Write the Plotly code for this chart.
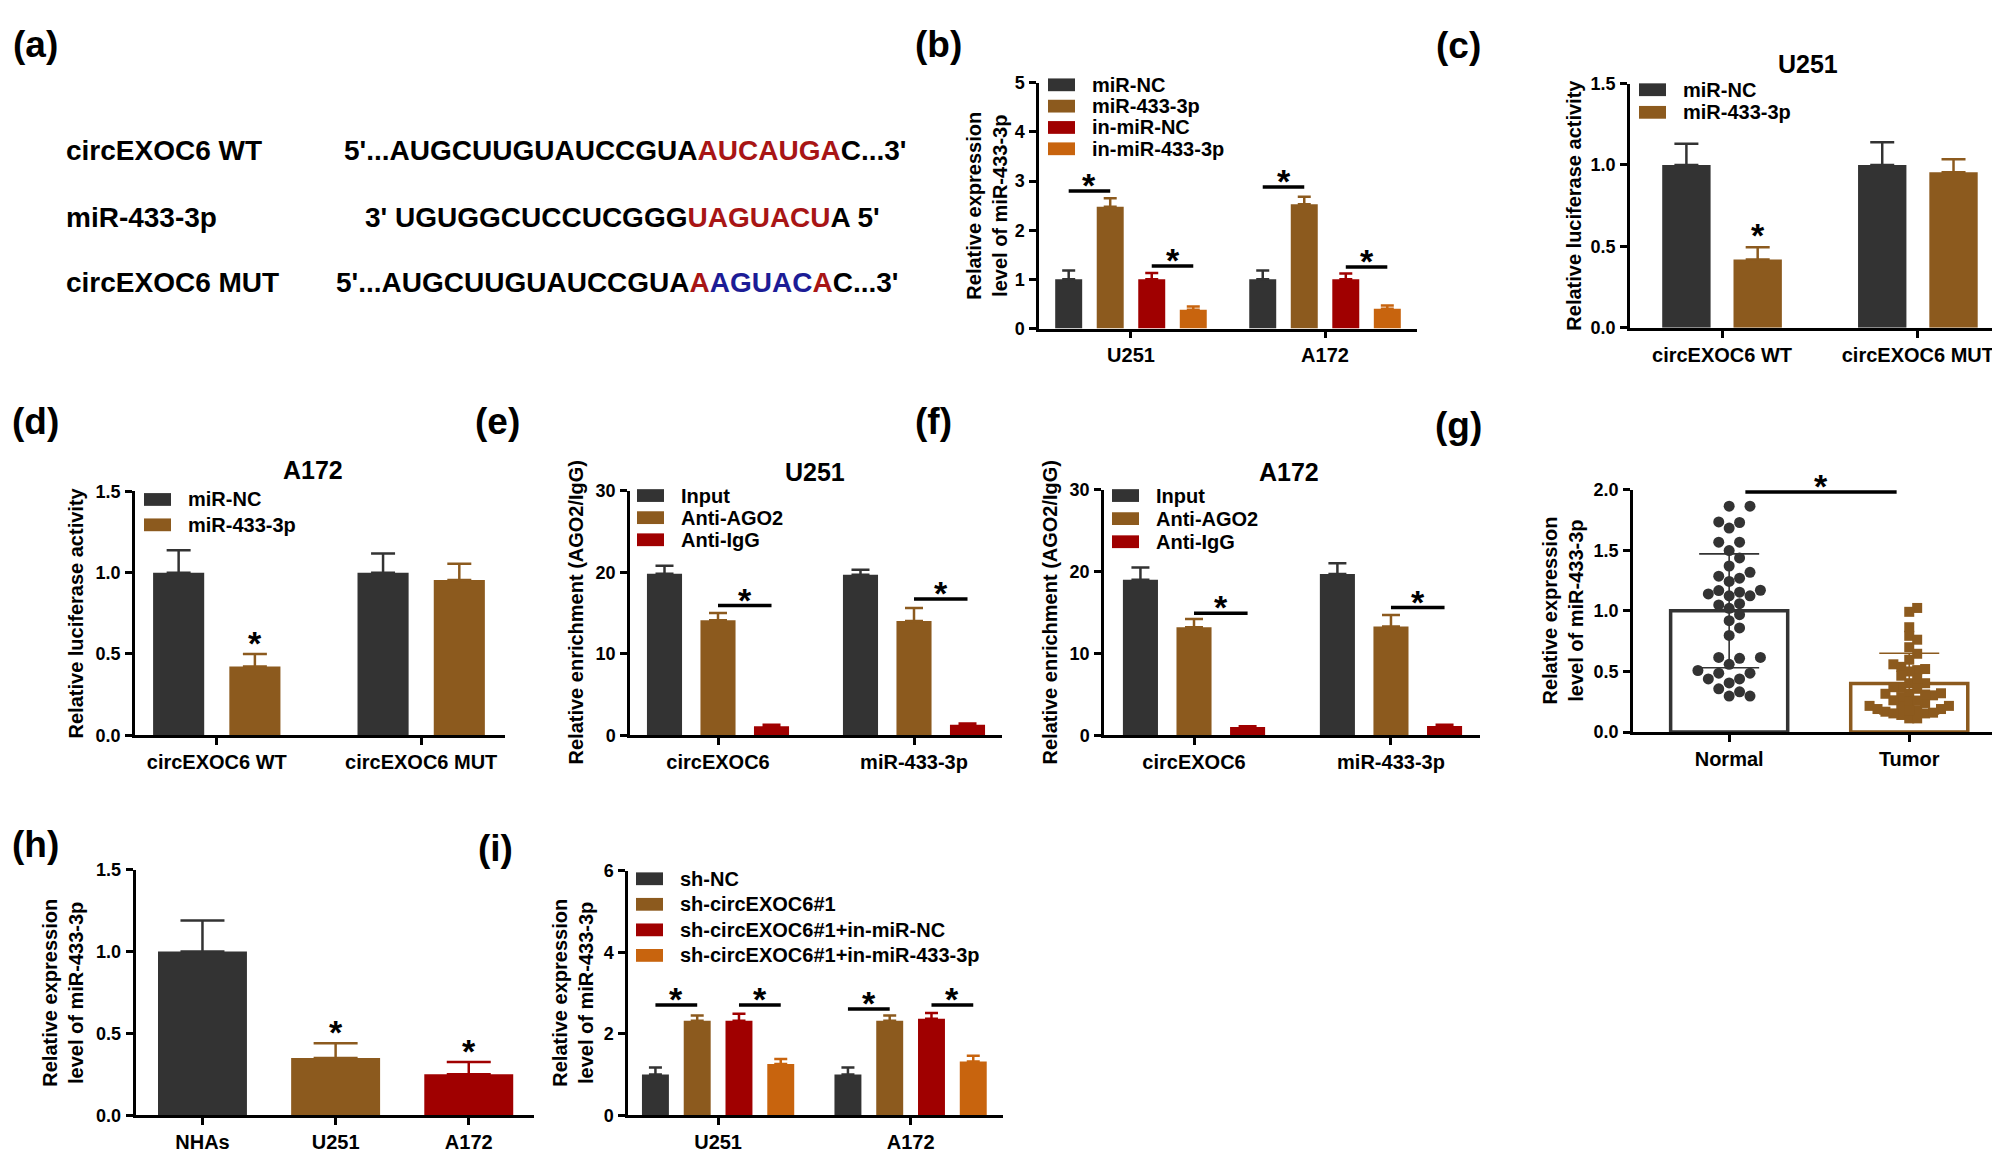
import plotly.graph_objects as go

W, H = 2000, 1150
FONT = "Liberation Sans, Arial, Helvetica, sans-serif"
DARK, BROWN, RED, ORANGE = "#333333", "#8C5A1E", "#A00000", "#C8640E"
SEQ_COL = {"k": "#000000", "r": "#A81515", "b": "#1C1C96"}

# ---------------- data ----------------
# (a)
a_names = ["circEXOC6 WT", "miR-433-3p", "circEXOC6 MUT"]
a_seqs = [
    [("5'...AUGCUUGUAUCCGUA", "k"), ("AUCAUGA", "r"), ("C...3'", "k")],
    [("3' UGUGGCUCCUCGGG", "k"), ("UAGUACU", "r"), ("A 5'", "k")],
    [("5'...AUGCUUGUAUCCGUA", "k"), ("A", "r"), ("AGUAC", "b"), ("A", "r"), ("C...3'", "k")],
]

# (b)
b_cats = ["U251", "A172"]
b_series = ["miR-NC", "miR-433-3p", "in-miR-NC", "in-miR-433-3p"]
b_mean = [[1.00, 1.00], [2.48, 2.53], [1.00, 1.00], [0.38, 0.40]]
b_sd = [[0.18, 0.18], [0.17, 0.15], [0.13, 0.12], [0.07, 0.07]]
b_sig = [(0, 0, 1, 2.80), (0, 2, 3, 1.27), (1, 0, 1, 2.88), (1, 2, 3, 1.25)]

# (c) U251 luciferase
c_cats = ["circEXOC6 WT", "circEXOC6 MUT"]
c_series = ["miR-NC", "miR-433-3p"]
c_mean = [[1.00, 1.00], [0.42, 0.955]]
c_sd = [[0.13, 0.14], [0.075, 0.08]]
c_star = [(0, 1)]

# (d) A172 luciferase
d_cats = ["circEXOC6 WT", "circEXOC6 MUT"]
d_series = ["miR-NC", "miR-433-3p"]
d_mean = [[1.00, 1.00], [0.423, 0.955]]
d_sd = [[0.137, 0.118], [0.077, 0.10]]
d_star = [(0, 1)]

# (e) U251 RIP
e_cats = ["circEXOC6", "miR-433-3p"]
e_series = ["Input", "Anti-AGO2", "Anti-IgG"]
e_mean = [[19.8, 19.7], [14.1, 14.0], [1.1, 1.3]]
e_sd = [[1.0, 0.6], [0.9, 1.6], [0.2, 0.15]]
e_sig = [(0, 1, 2, 15.9), (1, 1, 2, 16.7)]

# (f) A172 RIP
f_cats = ["circEXOC6", "miR-433-3p"]
f_series = ["Input", "Anti-AGO2", "Anti-IgG"]
f_mean = [[19.0, 19.7], [13.2, 13.3], [1.0, 1.15]]
f_sd = [[1.5, 1.3], [1.0, 1.4], [0.1, 0.15]]
f_sig = [(0, 1, 2, 14.9), (1, 1, 2, 15.6)]

# (g) tissues
g_cats = ["Normal", "Tumor"]
g_mean = [1.00, 0.40]
g_sd = [0.47, 0.25]
g_normal = [1.864, 1.864, 1.729, 1.734, 1.683, 1.567, 1.567, 1.497, 1.437, 1.370,
            1.318, 1.286, 1.270, 1.243, 1.154, 1.170, 1.167, 1.140, 1.124, 1.124,
            1.049, 1.059, 1.021, 0.968, 0.919, 0.859, 0.797, 0.616, 0.608, 0.616,
            0.559, 0.508, 0.486, 0.486, 0.438, 0.405, 0.438, 0.357, 0.332, 0.297, 0.297]
g_tumor = [1.024, 0.992, 0.865, 0.794, 0.762, 0.700, 0.646, 0.597, 0.559, 0.538,
           0.511, 0.465, 0.403, 0.403, 0.370, 0.316, 0.357, 0.316, 0.289, 0.303,
           0.214, 0.262, 0.249, 0.216, 0.216, 0.181, 0.168, 0.154, 0.141, 0.154,
           0.113, 0.113, 0.19, 0.18, 0.19, 0.16, 0.24, 0.26, 0.44, 0.32,
           0.37, 0.31, 0.52, 0.50]
g_sig_y = 1.98

# (h) cell lines
h_cats = ["NHAs", "U251", "A172"]
h_mean = [1.00, 0.35, 0.25]
h_sd = [0.19, 0.09, 0.076]
h_star = [1, 2]

# (i) rescue
i_cats = ["U251", "A172"]
i_series = ["sh-NC", "sh-circEXOC6#1", "sh-circEXOC6#1+in-miR-NC", "sh-circEXOC6#1+in-miR-433-3p"]
i_mean = [[1.00, 1.00], [2.32, 2.32], [2.32, 2.37], [1.26, 1.32]]
i_sd = [[0.17, 0.17], [0.13, 0.13], [0.17, 0.14], [0.12, 0.14]]
i_sig = [(0, 0, 1, 2.71), (0, 2, 3, 2.71), (1, 0, 1, 2.61), (1, 2, 3, 2.71)]

# ---------------- helpers ----------------
fig = go.Figure()
shapes, annos = [], []
STAR_SIZE = 34


def ax_name(i):
    return "" if i == 1 else str(i)


def px(x):
    return x / W


def py(y):
    return 1 - y / H


def text(x, y, t, size=20, xanchor="left", yanchor="middle", angle=0, color="black"):
    annos.append(dict(x=px(x), y=py(y), xref="paper", yref="paper", text=t, showarrow=False,
                      xanchor=xanchor, yanchor=yanchor, textangle=angle,
                      font=dict(family=FONT, size=size, color=color, weight="bold")))


def legend(x_sq, y_first, dy, names, colors, sq_w=27, sq_h=13, gap=15):
    for k, (n, c) in enumerate(zip(names, colors)):
        yc = y_first + k * dy
        shapes.append(dict(type="rect", xref="paper", yref="paper", x0=px(x_sq), x1=px(x_sq + sq_w),
                           y0=py(yc + sq_h / 2), y1=py(yc - sq_h / 2), fillcolor=c, line=dict(width=0)))
        text(x_sq + sq_w + gap, yc, n, size=20)


def setup_axes(i, xdom, ydom, xrange, yrange, dtick, tickformat, cats=None, ticktext=None):
    a = ax_name(i)
    common = dict(showline=True, linecolor="black", linewidth=2.5, ticks="outside", ticklen=7,
                  tickwidth=2.5, tickcolor="black", showgrid=False, zeroline=False)
    xa = dict(domain=[px(xdom[0]), px(xdom[1])], anchor="y" + a, range=xrange,
              tickfont=dict(family=FONT, size=20, color="black", weight="bold"), **common)
    if cats is not None:
        xa.update(type="category", categoryorder="array", categoryarray=cats)
    else:
        xa.update(type="linear", tickvals=list(range(len(ticktext))), ticktext=ticktext)
    ya = dict(domain=[py(ydom[1]), py(ydom[0])], anchor="x" + a, range=yrange, dtick=dtick,
              tick0=0, tickformat=tickformat, ticklabelstandoff=1,
              tickfont=dict(family=FONT, size=18, color="black", weight="bold"), **common)
    fig.update_layout(**{"xaxis" + a: xa, "yaxis" + a: ya})


def grouped(i, cats, means, sds, colors, width, step, capw):
    a = ax_name(i)
    n = len(means)
    for k in range(n):
        off = (k - (n - 1) / 2) * step - width / 2
        fig.add_trace(go.Bar(
            x=cats, y=means[k], width=width, offset=off, xaxis="x" + a, yaxis="y" + a,
            marker=dict(color=colors[k], line=dict(width=0)), showlegend=False,
            error_y=dict(type="data", array=sds[k], arrayminus=[0] * len(cats), symmetric=False,
                         color=colors[k], thickness=2.5, width=capw)))


def star(i, x, y, shift):
    a = ax_name(i)
    annos.append(dict(x=x, y=y, xref="x" + a, yref="y" + a, text="*", showarrow=False,
                      xanchor="center", yanchor="middle", yshift=shift,
                      font=dict(family=FONT, size=STAR_SIZE, color="black", weight="bold")))


def sig_line(i, xa, xb, y):
    a = ax_name(i)
    shapes.append(dict(type="line", xref="x" + a, yref="y" + a, x0=xa, x1=xb, y0=y, y1=y,
                       line=dict(color="black", width=3.5)))
    star(i, (xa + xb) / 2, y, 6)


def pos(g, k, n, step):
    return g + (k - (n - 1) / 2) * step


def beeswarm(vals, ypx, xpx, dist, step):
    order = sorted(range(len(vals)), key=lambda j: vals[j])
    placed, offs = [], [0.0] * len(vals)
    for j in order:
        y = vals[j] * ypx
        m = 0
        while True:
            cands = [0] if m == 0 else [m * step, -m * step]
            ok = None
            for c in cands:
                if all((c - qx) ** 2 + (y - qy) ** 2 >= dist ** 2 for qx, qy in placed):
                    ok = c
                    break
            if ok is not None:
                placed.append((ok, y))
                offs[j] = ok / xpx
                break
            m += 1
    return offs


# ---------------- panel (a) ----------------
text(27, 27, "(a)", size=37, xanchor="center")
a_rows_y = [135, 203, 269]
a_seq_x = [334, 355, 326]
for name, parts, yy, xx in zip(a_names, a_seqs, a_rows_y, a_seq_x):
    text(56, yy, name, size=28)
    s = "".join(f"<span style='color:{SEQ_COL[c]}'>{t}</span>" for t, c in parts)
    text(xx, yy, s, size=28)

# ---------------- panel (b) ----------------
cols4 = [DARK, BROWN, RED, ORANGE]
setup_axes(1, (1031, 1409), (66, 316), [-0.474, 1.474], [0, 5], 1, "d", cats=b_cats)
grouped(1, b_cats, b_mean, b_sd, cols4, 0.139, 0.214, 6.5)
for g, k1, k2, y in b_sig:
    sig_line(1, pos(g, k1, 4, 0.214), pos(g, k2, 4, 0.214), y)
legend(1040, 68, 21.7, b_series, cols4)
text(930, 27, "(b)", size=37, xanchor="center")
text(979, 191, "Relative expression<br>level of miR-433-3p", size=20, xanchor="center", angle=-90)

# ---------------- panel (c) ----------------
setup_axes(2, (1622, 1998), (66.7, 315.3), [-0.47, 1.45], [0, 1.5], 0.5, ".1f", cats=c_cats)
grouped(2, c_cats, c_mean, c_sd, [DARK, BROWN], 0.247, 0.364, 12)
for g, k in c_star:
    star(2, pos(g, k, 2, 0.364), c_mean[k][g] + c_sd[k][g], 12)
legend(1631, 73, 23, c_series, [DARK, BROWN])
text(1450, 28, "(c)", size=37, xanchor="center")
text(1800, 47, "U251", size=25, xanchor="center")
text(1566, 191, "Relative luciferase activity", size=20, xanchor="center", angle=-90)

# ---------------- panel (d) ----------------
setup_axes(3, (127, 497), (481.7, 730), [-0.40, 1.41], [0, 1.5], 0.5, ".1f", cats=d_cats)
grouped(3, d_cats, d_mean, d_sd, [DARK, BROWN], 0.25, 0.373, 12)
for g, k in d_star:
    star(3, pos(g, k, 2, 0.373), d_mean[k][g] + d_sd[k][g], 11)
legend(136, 490, 25.8, d_series, [DARK, BROWN])
text(27, 411, "(d)", size=37, xanchor="center")
text(305, 460, "A172", size=25, xanchor="center")
text(68, 606, "Relative luciferase activity", size=20, xanchor="center", angle=-90)

# ---------------- panel (e) ----------------
cols3 = [DARK, BROWN, RED]
setup_axes(4, (622, 994), (481, 730), [-0.449, 1.449], [0, 30], 10, "d", cats=e_cats)
grouped(4, e_cats, e_mean, e_sd, cols3, 0.179, 0.273, 9)
for g, k1, k2, y in e_sig:
    sig_line(4, pos(g, k1, 3, 0.273), pos(g, k2, 3, 0.273), y)
legend(629, 486, 22.5, e_series, cols3)
text(489, 411, "(e)", size=37, xanchor="center")
text(807, 462, "U251", size=25, xanchor="center")
text(568, 605, "Relative enrichment (AGO2/IgG)", size=20, xanchor="center", angle=-90)

# ---------------- panel (f) ----------------
setup_axes(5, (1096, 1472), (480, 730), [-0.457, 1.452], [0, 30], 10, "d", cats=f_cats)
grouped(5, f_cats, f_mean, f_sd, cols3, 0.178, 0.272, 9)
for g, k1, k2, y in f_sig:
    sig_line(5, pos(g, k1, 3, 0.272), pos(g, k2, 3, 0.272), y)
legend(1104, 486, 23.5, f_series, cols3)
text(925, 411, "(f)", size=37, xanchor="center")
text(1281, 462, "A172", size=25, xanchor="center")
text(1042, 605, "Relative enrichment (AGO2/IgG)", size=20, xanchor="center", angle=-90)

# ---------------- panel (g) ----------------
setup_axes(6, (1625, 1992), (480, 726.7), [-0.534, 1.504], [0, 2.0], 0.5, ".1f", ticktext=g_cats)
g_cols = [DARK, BROWN]
for k in range(2):
    fig.add_trace(go.Bar(
        x=[k], y=[g_mean[k]], width=0.65, xaxis="x6", yaxis="y6", showlegend=False,
        marker=dict(color="rgba(255,255,255,0)", line=dict(color=g_cols[k], width=3.5)),
        error_y=dict(type="data", array=[g_sd[k]], color=g_cols[k], thickness=1.6, width=30)))
yscale_g = 246.7 / 2.0
xscale_g = 181.5
n_off = beeswarm(g_normal, yscale_g, xscale_g, 11, 10.5)
t_off = beeswarm(g_tumor, yscale_g, xscale_g, 8.0, 8.0)
fig.add_trace(go.Scatter(x=[0 + o for o in n_off], y=g_normal, mode="markers", xaxis="x6", yaxis="y6",
                         marker=dict(symbol="circle", size=11, color=DARK), showlegend=False))
fig.add_trace(go.Scatter(x=[1 + o for o in t_off], y=g_tumor, mode="markers", xaxis="x6", yaxis="y6",
                         marker=dict(symbol="square", size=10, color=BROWN), showlegend=False))
sig_line(6, 0.09, 0.93, g_sig_y)
text(1450, 415, "(g)", size=37, xanchor="center")
text(1555, 603, "Relative expression<br>level of miR-433-3p", size=20, xanchor="center", angle=-90)

# ---------------- panel (h) ----------------
setup_axes(7, (127.5, 526), (866.7, 1116.7), [-0.503, 2.49], [0, 1.5], 0.5, ".1f", cats=h_cats)
for k, c in enumerate([DARK, BROWN, RED]):
    fig.add_trace(go.Bar(
        x=[h_cats[k]], y=[h_mean[k]], width=0.668, offset=-0.334, xaxis="x7", yaxis="y7",
        marker=dict(color=c, line=dict(width=0)), showlegend=False,
        error_y=dict(type="data", array=[h_sd[k]], arrayminus=[0], symmetric=False,
                     color=c, thickness=2.5, width=22)))
for k in h_star:
    star(7, k, h_mean[k] + h_sd[k], 11)
text(27, 841, "(h)", size=37, xanchor="center")
text(55, 992, "Relative expression<br>level of miR-433-3p", size=20, xanchor="center", angle=-90)

# ---------------- panel (i) ----------------
setup_axes(8, (620, 995), (868, 1116.7), [-0.468, 1.48], [0, 6], 2, "d", cats=i_cats)
grouped(8, i_cats, i_mean, i_sd, cols4, 0.14, 0.217, 6.5)
for g, k1, k2, y in i_sig:
    sig_line(8, pos(g, k1, 4, 0.217), pos(g, k2, 4, 0.217), y)
legend(628, 876, 26, i_series, cols4)
text(487, 845, "(i)", size=37, xanchor="center")
text(565, 992, "Relative expression<br>level of miR-433-3p", size=20, xanchor="center", angle=-90)

fig.update_layout(
    width=W, height=H, autosize=False, margin=dict(l=0, r=0, t=0, b=0),
    paper_bgcolor="white", plot_bgcolor="white", barmode="overlay",
    shapes=shapes, annotations=annos, showlegend=False,
    font=dict(family=FONT, color="black"),
)
fig.write_html("out.html")
